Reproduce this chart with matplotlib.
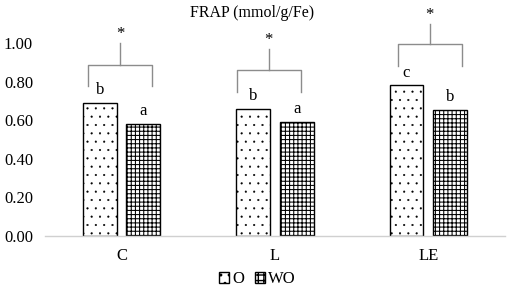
import matplotlib.pyplot as plt
from matplotlib.patches import Patch
import numpy as np

plt.rcParams['font.family'] = ['Liberation Serif', 'DejaVu Serif']

categories = ['C', 'L', 'LE']
o_vals = [0.69, 0.66, 0.78]
wo_vals = [0.58, 0.59, 0.655]
o_letters = ['b', 'b', 'c']
wo_letters = ['a', 'a', 'b']
# significance brackets: horizontal level, leg bottom, stem top, left/right offsets
br_level = [0.886, 0.86, 0.995]
br_bottom = [0.777, 0.746, 0.88]
br_top = [1.0, 0.969, 1.10]
br_left = [-0.22, -0.25, -0.20]
br_right = [0.20, 0.17, 0.22]

fig = plt.figure(figsize=(5.1, 2.88), dpi=100)
ax = fig.add_axes([0.088, 0.1806, 0.902, 0.670])
x = np.arange(len(categories))
w = 0.22
off = 0.142
dot_hatch = '..'
grid_hatch = '++++'

with plt.rc_context({'hatch.linewidth': 0.3}):
    b1 = ax.bar(x - off, o_vals, w, facecolor='white', edgecolor='black', hatch=dot_hatch, linewidth=1)
with plt.rc_context({'hatch.linewidth': 0.75}):
    b2 = ax.bar(x + off, wo_vals, w, facecolor='white', edgecolor='black', hatch=grid_hatch, linewidth=1)
for p in b1:
    if hasattr(p, 'set_hatch_linewidth'):
        p.set_hatch_linewidth(0.3)
for p in b2:
    if hasattr(p, 'set_hatch_linewidth'):
        p.set_hatch_linewidth(0.75)

fs = 12
for i in range(len(categories)):
    ax.text(x[i] - off, o_vals[i] + 0.025, o_letters[i], ha='center', va='bottom', fontsize=fs)
    ax.text(x[i] + off, wo_vals[i] + 0.025, wo_letters[i], ha='center', va='bottom', fontsize=fs)
    l, r = x[i] + br_left[i], x[i] + br_right[i]
    c = (l + r) / 2
    ax.plot([l, l, r, r], [br_bottom[i], br_level[i], br_level[i], br_bottom[i]],
            color='#8c8c8c', lw=1, clip_on=False)
    ax.plot([c, c], [br_level[i], br_top[i]], color='#8c8c8c', lw=1, clip_on=False)
    ax.text(c, br_top[i] + 0.005, '*', ha='center', va='bottom', fontsize=fs, clip_on=False)

ax.set_xlim(-0.5, 2.5)
ax.set_ylim(0, 1.0)
ax.set_yticks([0, 0.2, 0.4, 0.6, 0.8, 1.0])
ax.set_yticklabels(['0.00', '0.20', '0.40', '0.60', '0.80', '1.00'], fontsize=fs)
ax.set_xticks(x)
ax.set_xticklabels(categories, fontsize=fs)
ax.tick_params(axis='x', length=0, pad=9)
ax.tick_params(axis='y', length=0, pad=8.5)
for s in ['top', 'right', 'left']:
    ax.spines[s].set_visible(False)
ax.spines['bottom'].set_color('#d0d0d0')
ax.spines['bottom'].set_linewidth(1)

fig.text(0.495, 0.955, 'FRAP (mmol/g/Fe)', ha='center', va='center', fontsize=11.5)

with plt.rc_context({'hatch.linewidth': 0.3}):
    h1 = Patch(facecolor='white', edgecolor='black', hatch=dot_hatch, label='O')
with plt.rc_context({'hatch.linewidth': 0.75}):
    h2 = Patch(facecolor='white', edgecolor='black', hatch='+++', label='WO')
fig.legend(handles=[h1, h2], loc='lower center', bbox_to_anchor=(0.505, -0.05), ncol=2,
           frameon=False, fontsize=fs, handlelength=0.6, handleheight=0.6,
           handletextpad=0.2, columnspacing=0.6)

fig.savefig('out.png', dpi=100)
